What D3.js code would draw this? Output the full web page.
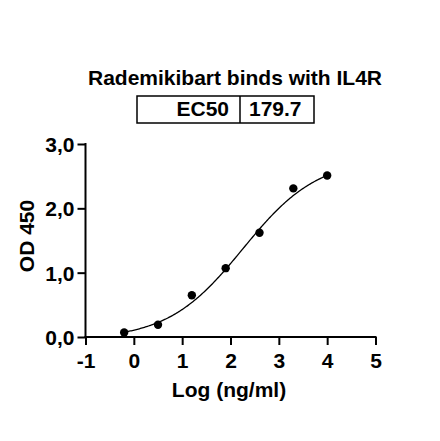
<!DOCTYPE html>
<html><head><meta charset="utf-8">
<script src="https://cdn.jsdelivr.net/npm/d3@7"></script>
<style>
body{margin:0;background:#fff;}
text{font-family:"Liberation Sans",Arial,Helvetica,sans-serif;font-weight:bold;fill:#000;}
</style></head>
<body><svg id="c" width="440" height="441"></svg>
<script>
const logConc = [-0.2, 0.5, 1.2, 1.9, 2.6, 3.3, 4.0];
const od450 = [0.07, 0.19, 0.65, 1.07, 1.62, 2.31, 2.51];
const xTicks = [-1, 0, 1, 2, 3, 4, 5];
const xTickLabels = ["-1", "0", "1", "2", "3", "4", "5"];
const yTicks = [0, 1, 2, 3];
const yTickLabels = ["0,0", "1,0", "2,0", "3,0"];
const ec50 = 179.7;
const fitParams = {bottom: -0.04, top: 2.78, hill: 0.56};

const FS = "21px";
const svg = d3.select("#c");
const x = d3.scaleLinear().domain([-1, 5]).range([85.5, 375.5]);
const y = d3.scaleLinear().domain([0, 3]).range([337, 144]);

// Title
svg.append("text").attr("x", 235).attr("y", 85).attr("text-anchor", "middle")
  .style("font-size", FS).text("Rademikibart binds with IL4R");

// EC50 table
const tb = svg.append("g");
tb.append("rect").attr("x", 137).attr("y", 96).attr("width", 177).attr("height", 27)
  .attr("fill", "none").attr("stroke", "#000").attr("stroke-width", 1.5);
tb.append("line").attr("x1", 240).attr("x2", 240).attr("y1", 96).attr("y2", 123)
  .attr("stroke", "#000").attr("stroke-width", 1.5);
tb.append("text").attr("x", 229).attr("y", 116).attr("text-anchor", "end")
  .style("font-size", FS).text("EC50");
tb.append("text").attr("x", 249).attr("y", 116).attr("text-anchor", "start")
  .style("font-size", FS).text(ec50.toFixed(1));

// Axes
const xAxis = d3.axisBottom(x).tickValues(xTicks).tickFormat((d, i) => xTickLabels[i]).tickSize(8).tickSizeOuter(0);
const gx = svg.append("g").attr("transform", `translate(0,${y(0)})`).call(xAxis);
const yAxis = d3.axisLeft(y).tickValues(yTicks).tickFormat((d, i) => yTickLabels[i]).tickSize(8).tickSizeOuter(0);
const gy = svg.append("g").attr("transform", `translate(${x(-1)},0)`).call(yAxis);
[gx, gy].forEach(g => {
  g.select(".domain").attr("stroke", "#000").attr("stroke-width", 2);
  g.selectAll(".tick line").attr("stroke", "#000").attr("stroke-width", 2);
  g.selectAll(".tick text").style("font-size", FS).style("font-family", "'Liberation Sans',Arial,sans-serif").style("font-weight", "bold").attr("fill", "#000");
});
gx.selectAll(".tick text").attr("y", 31).attr("dy", null);
gy.selectAll(".tick text").attr("x", -11).attr("dy", "0.36em");
gx.select(".domain").attr("d", `M${x(-1)-1},0H${x(5)+1}`);
gy.select(".domain").attr("d", `M0,${y(3)-1}V${y(0)+1}`);

// Axis labels
svg.append("text").attr("x", 229).attr("y", 397).attr("text-anchor", "middle")
  .style("font-size", FS).text("Log (ng/ml)");
svg.append("text").attr("transform", "translate(33.5,236) rotate(-90)").attr("text-anchor", "middle")
  .style("font-size", FS).text("OD 450");

// Fit curve (4PL)
const logEC50 = Math.log10(ec50);
const f = xv => fitParams.bottom + (fitParams.top - fitParams.bottom) / (1 + Math.pow(10, (logEC50 - xv) * fitParams.hill));
const xs = d3.range(0, 201).map(i => logConc[0] + (logConc[logConc.length - 1] - logConc[0]) * i / 200);
svg.append("path").datum(xs)
  .attr("d", d3.line().x(d => x(d)).y(d => y(f(d))).curve(d3.curveBasis))
  .attr("fill", "none").attr("stroke", "#000").attr("stroke-width", 1.3);

// Points
svg.selectAll("circle.pt").data(logConc).join("circle").attr("class", "pt")
  .attr("cx", d => x(d)).attr("cy", (d, i) => y(od450[i])).attr("r", 4.2).attr("fill", "#000");
</script></body></html>
